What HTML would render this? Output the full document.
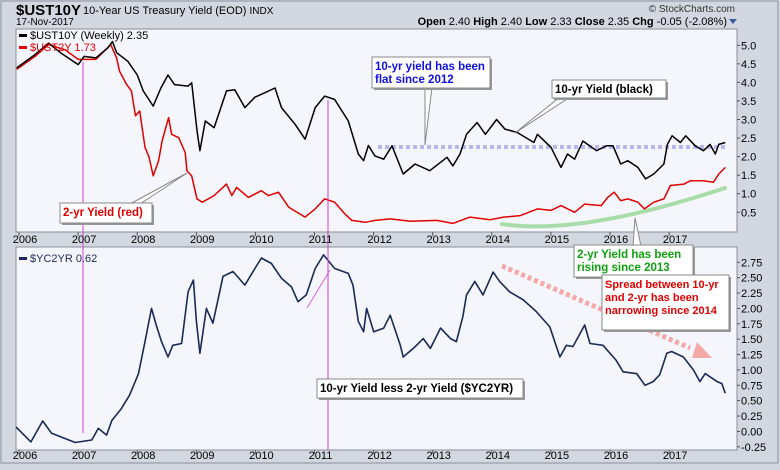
<!DOCTYPE html>
<html><head><meta charset="utf-8"><style>
html,body{margin:0;padding:0;background:#d3d7e0;}
body{width:780px;height:465px;overflow:hidden;font-family:"Liberation Sans",sans-serif;}
svg text{font-family:"Liberation Sans",sans-serif;}
</style></head><body>
<svg id="chart" width="780" height="465" xmlns="http://www.w3.org/2000/svg">
<rect x="0" y="0" width="780" height="465" fill="#d3d7e0"/>
<rect x="1" y="1" width="777" height="462" fill="none" stroke="#8a8f9a"/>
<text x="16" y="15" font-size="15" font-weight="bold" fill="#000">$UST10Y</text>
<text x="83" y="14" font-size="11" fill="#000">10-Year US Treasury Yield (EOD) <tspan font-size="10">INDX</tspan></text>
<text x="16" y="25" font-size="10" fill="#000">17-Nov-2017</text>
<text x="735" y="12" font-size="10" fill="#333" text-anchor="end">© StockCharts.com</text>
<text x="727" y="25" font-size="11" fill="#000" text-anchor="end"><tspan font-weight="bold">Open</tspan> 2.40 <tspan font-weight="bold">High</tspan> 2.40 <tspan font-weight="bold">Low</tspan> 2.33 <tspan font-weight="bold">Close</tspan> 2.35 <tspan font-weight="bold">Chg</tspan> -0.05 (-2.08%)</text>
<path d="M729 19 L737 19 L733 24 Z" fill="#3a5a9a"/>
<g id="g"></g>
</svg>
<script>
// ---- data ----
const years = [2006,2007,2008,2009,2010,2011,2012,2013,2014,2015,2016,2017];
const topTicks = [5.0,4.5,4.0,3.5,3.0,2.5,2.0,1.5,1.0,0.5];
const botTicks = [2.75,2.5,2.25,2.0,1.75,1.5,1.25,1.0,0.75,0.5,0.25,0.0,-0.25];
const tenT = [2005.86,2006.17,2006.4,2006.6,2006.9,2007.0,2007.2,2007.4,2007.48,2007.55,2007.74,2007.9,2008.0,2008.17,2008.3,2008.42,2008.53,2008.76,2008.82,2008.91,2008.96,2009.05,2009.2,2009.41,2009.55,2009.72,2009.89,2010.0,2010.23,2010.34,2010.57,2010.74,2010.91,2011.07,2011.24,2011.47,2011.64,2011.73,2011.81,2011.92,2012.07,2012.21,2012.4,2012.6,2012.85,2013.14,2013.24,2013.36,2013.47,2013.65,2013.79,2013.98,2014.12,2014.33,2014.61,2014.67,2014.9,2015.07,2015.18,2015.3,2015.44,2015.67,2015.84,2015.95,2016.08,2016.2,2016.37,2016.5,2016.64,2016.81,2016.87,2016.95,2017.09,2017.18,2017.34,2017.48,2017.59,2017.68,2017.74,2017.85];
const tenV = [4.39,4.75,5.06,4.8,4.48,4.7,4.66,4.93,5.1,4.8,4.57,4.2,3.77,3.36,3.85,4.2,3.94,3.9,3.99,2.7,2.16,2.96,2.78,3.77,3.8,3.32,3.6,3.68,3.85,3.32,2.87,2.47,3.32,3.63,3.54,2.96,2.07,1.89,2.3,2.02,1.93,2.29,1.53,1.8,1.62,1.98,1.75,2.07,2.6,2.92,2.6,3.0,2.74,2.65,2.38,2.6,2.25,1.71,2.07,1.93,2.42,2.16,2.29,2.29,1.8,1.89,1.71,1.4,1.53,1.8,2.33,2.56,2.38,2.56,2.29,2.16,2.33,2.07,2.33,2.38];
const twoT = [2005.86,2006.17,2006.4,2006.68,2006.9,2007.2,2007.45,2007.55,2007.6,2007.72,2007.8,2007.87,2007.94,2008.03,2008.1,2008.17,2008.26,2008.32,2008.43,2008.48,2008.6,2008.71,2008.74,2008.82,2008.91,2009.0,2009.2,2009.41,2009.5,2009.58,2009.78,2010.0,2010.12,2010.29,2010.46,2010.74,2010.91,2011.07,2011.24,2011.41,2011.53,2011.76,2011.92,2012.18,2012.52,2012.97,2013.24,2013.53,2013.87,2014.1,2014.38,2014.67,2014.9,2015.07,2015.3,2015.47,2015.75,2015.86,2015.97,2016.08,2016.2,2016.37,2016.48,2016.64,2016.81,2016.92,2017.15,2017.26,2017.48,2017.65,2017.74,2017.85];
const twoV = [4.35,4.7,5.02,4.88,4.62,4.62,5.02,4.66,4.3,3.94,3.77,3.1,3.23,2.25,1.98,1.48,1.89,2.42,3.05,2.6,2.51,2.11,1.62,1.48,0.86,0.77,0.95,1.26,0.95,1.17,0.9,1.08,0.95,1.04,0.64,0.37,0.59,0.86,0.77,0.46,0.28,0.23,0.28,0.32,0.26,0.28,0.2,0.37,0.3,0.37,0.41,0.59,0.55,0.68,0.5,0.72,0.68,0.9,1.04,0.81,0.86,0.77,0.59,0.77,0.86,1.22,1.26,1.35,1.35,1.31,1.53,1.71];
const sprT = [2005.85,2006.1,2006.3,2006.45,2006.85,2007.13,2007.24,2007.38,2007.47,2007.63,2007.77,2007.92,2008.03,2008.14,2008.22,2008.31,2008.42,2008.5,2008.65,2008.76,2008.85,2008.9,2008.96,2009.07,2009.18,2009.35,2009.52,2009.72,2009.89,2010.0,2010.17,2010.34,2010.51,2010.62,2010.76,2010.91,2011.05,2011.24,2011.47,2011.55,2011.64,2011.73,2011.78,2011.9,2012.07,2012.18,2012.35,2012.4,2012.57,2012.74,2012.86,2013.03,2013.2,2013.3,2013.41,2013.47,2013.61,2013.75,2013.92,2014.03,2014.2,2014.43,2014.65,2014.88,2015.05,2015.16,2015.27,2015.47,2015.56,2015.78,2016.0,2016.12,2016.35,2016.49,2016.63,2016.74,2016.86,2016.94,2017.14,2017.31,2017.42,2017.51,2017.71,2017.79,2017.85];
const sprV = [0.07,-0.17,0.17,-0.03,-0.18,-0.14,0.05,-0.06,0.18,0.37,0.59,0.94,1.46,2.0,1.73,1.46,1.21,1.4,1.43,2.27,2.46,1.79,1.27,2.0,1.76,2.52,2.6,2.38,2.65,2.82,2.73,2.49,2.35,2.11,2.22,2.65,2.87,2.65,2.57,2.38,1.79,1.62,2.0,1.62,1.68,1.89,1.4,1.21,1.35,1.51,1.35,1.68,1.51,1.46,1.87,2.22,2.44,2.22,2.59,2.44,2.27,2.14,1.95,1.7,1.21,1.4,1.38,1.73,1.43,1.4,1.16,0.97,0.94,0.75,0.81,0.92,1.27,1.3,1.21,1.0,0.81,0.94,0.81,0.78,0.62];

// ---- axes ----
const PL=16, PR=737;
const xs = t => 25 + (t-2006)*59.1;
const yTop = v => 45.3 + (5-v)*37.1;
const yBot = v => 262.3 + (2.75-v)*61.5;
const NS="http://www.w3.org/2000/svg";
const g=document.getElementById('g');
function mk(tag,attrs,parent){const e=document.createElementNS(NS,tag);for(const k in attrs)e.setAttribute(k,attrs[k]);(parent||g).appendChild(e);return e;}

function panel(top,bot,name){
  const r=mk('rect',{x:PL,y:top,width:PR-PL,height:bot-top,fill:'#f4f6fb',stroke:'#8a8f9a','stroke-width':1});
  
  
}
panel(29,232,'price-panel');
panel(247,450,'spread-panel');

function line(T,V,ys,color,w,name){
  let d='';T.forEach((t,i)=>{d+=(i?'L':'M')+xs(t).toFixed(1)+' '+ys(V[i]).toFixed(1);});
  const p=mk('path',{d:d,fill:'none',stroke:color,'stroke-width':w,'stroke-linejoin':'round'});
  
  
}

// annotations beneath lines
let a=mk('line',{x1:378,y1:147,x2:728,y2:147,stroke:'#b8b8f0','stroke-width':4,'stroke-dasharray':'4 3'});


a=mk('path',{d:'M502 224 Q580 236 725 188',fill:'none',stroke:'#a8dca8','stroke-width':4,'stroke-linecap':'round'});


a=mk('line',{x1:502,y1:266,x2:690,y2:348,stroke:'#f4a8a8','stroke-width':5,'stroke-dasharray':'4 3'});


a=mk('path',{d:'M697 342 L712 358 L692 358 Z',fill:'#f4a8a8'});



line(twoT,twoV,yTop,'#e00000',1.5,'series-2yr-yield');
line(tenT,tenV,yTop,'#000000',1.5,'series-10yr-yield');
line(sprT,sprV,yBot,'#1a2a55',1.6,'series-yc2yr-spread');

// magenta markers
[[83,62,433],[328,100,450]].forEach(m=>{
  const l=mk('line',{x1:m[0],y1:m[1],x2:m[0],y2:m[2],stroke:'#d040d0','stroke-width':1});
  
  
});
a=mk('line',{x1:307,y1:308,x2:330,y2:270,stroke:'#e060e0','stroke-width':1});



// right axis ticks
topTicks.forEach(v=>{
  const t=mk('text',{x:741,y:yTop(v)+4,'font-size':11,fill:'#000'});t.textContent=v.toFixed(1);
  
  
  mk('line',{x1:PR,y1:yTop(v),x2:PR+3,y2:yTop(v),stroke:'#555'});
});
botTicks.forEach(v=>{
  const t=mk('text',{x:741,y:yBot(v)+4,'font-size':11,fill:'#000'});t.textContent=v.toFixed(2);
  
  
  mk('line',{x1:PR,y1:yBot(v),x2:PR+3,y2:yBot(v),stroke:'#555'});
});
years.forEach(y=>{
  [[243],[459]].forEach(r=>{
    const t=mk('text',{x:xs(y),y:r[0],'font-size':11,fill:'#000','text-anchor':'middle'});t.textContent=y;
    
    
  });
  mk('line',{x1:xs(y)-6,y1:232,x2:xs(y)-6,y2:236,stroke:'#555'});
  mk('line',{x1:xs(y)-6,y1:450,x2:xs(y)-6,y2:454,stroke:'#555'});
});

// legends
function legend(x,y,color,txt,name){
  mk('rect',{x:x,y:y-5,width:8,height:3,fill:color});
  const t=mk('text',{x:x+11,y:y,'font-size':11,fill:color});t.textContent=txt;
  
  
}
legend(19,39,'#000','$UST10Y (Weekly) 2.35','legend-10yr');
legend(19,51,'#e00000','$UST2Y 1.73','legend-2yr');
legend(19,262,'#1a2a55','$YC2YR 0.62','legend-spread');

// callouts
function box(x,y,w,h,lines,color,name,ptr,fs){
  if(ptr){mk('path',{d:ptr,fill:'#fff',stroke:'#888','stroke-width':1});}
  mk('rect',{x:x+2,y:y+2,width:w,height:h,fill:'#999'});
  const b=mk('rect',{x:x,y:y,width:w,height:h,fill:'#fff',stroke:'#888'});
  
  
  lines.forEach((s,i)=>{const t=mk('text',{x:x+3,y:y+13+i*13,'font-size':fs||11.5,'font-weight':'bold',fill:color});t.textContent=s;});
}
box(60,203,92,20,['2-yr Yield (red)'],'#e00000','callout-2yr-red','M130 204 L187 173 L140 204 Z');
box(372,57,118,31,['10-yr yield has been','flat since 2012'],'#1010e0','callout-10yr-flat','M425 87 L425 145 L432 87 Z');
box(552,80,114,18,['10-yr Yield (black)'],'#000','callout-10yr-black','M560 97 L515 133 L570 97 Z');
box(574,245,119,32,['2-yr Yield has been','rising since 2013'],'#10a010','callout-2yr-rising','M633 246 L635 218 L641 246 Z');
box(317,379,206,19,['10-yr Yield less 2-yr Yield ($YC2YR)'],'#000','callout-spread-def',null);
box(602,275,127,55,['Spread between 10-yr','and 2-yr has been','narrowing since 2014'],'#e00000','callout-spread-narrowing',null,11);
</script>
</body></html>
